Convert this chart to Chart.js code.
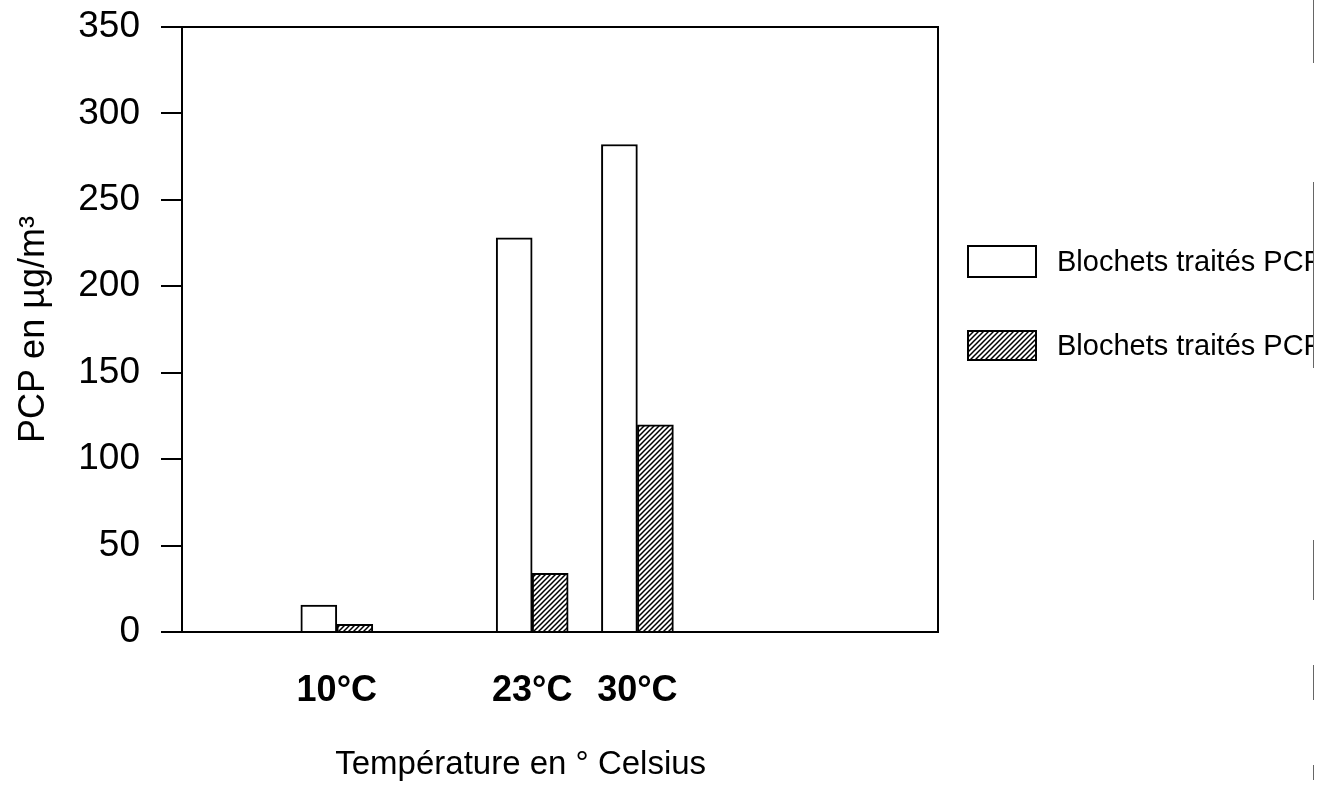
<!DOCTYPE html>
<html><head><meta charset="utf-8">
<script src="https://cdn.jsdelivr.net/npm/chart.js@4.4.1/dist/chart.umd.min.js"></script>
<style>html,body{margin:0;padding:0;background:#fff;}#wrap{width:1331px;height:800px;position:relative;}</style>
</head><body><div id="wrap"><canvas id="c" width="1331" height="800"></canvas></div>
<script>
// ---- data ----
const temperatures = [10, 23, 30];
const tickLabels = ['10°C', '23°C', '30°C'];
const seriesLabels = ['Blochets traités PCP', 'Blochets traités PCP'];
const whiteValues = [15.6, 228, 282];
const hatchedValues = [4.5, 34, 119.8];
const yTickValues = [0, 50, 100, 150, 200, 250, 300, 350];
const xTitle = 'Température en ° Celsius';
const yTitle = 'PCP en µg/m³';

const FONT = '"Liberation Sans", Arial, Helvetica, sans-serif';

function hatchPattern() {
  const s = 5;
  const c = document.createElement('canvas');
  c.width = s; c.height = s;
  const g = c.getContext('2d');
  g.fillStyle = '#fff'; g.fillRect(0, 0, s, s);
  g.strokeStyle = '#000'; g.lineWidth = 1.5;
  g.beginPath();
  g.moveTo(-1, s + 1); g.lineTo(s + 1, -1);
  g.moveTo(-s / 2 - 1, s / 2 + 1); g.lineTo(s / 2 + 1, -s / 2 - 1);
  g.moveTo(s / 2 - 1, s * 1.5 + 1); g.lineTo(s * 1.5 + 1, s / 2 - 1);
  g.stroke();
  return g.createPattern(c, 'repeat');
}
const hatch = hatchPattern();

const frameAndLegend = {
  id: 'frameAndLegend',
  afterDraw(chart) {
    const ctx = chart.ctx;
    const a = chart.chartArea;
    ctx.save();
    // frame (top & right sides)
    ctx.strokeStyle = '#000'; ctx.lineWidth = 2;
    ctx.beginPath();
    ctx.moveTo(a.left, a.top); ctx.lineTo(a.right, a.top); ctx.lineTo(a.right, a.bottom);
    ctx.stroke();
    // x title
    ctx.fillStyle = '#000';
    ctx.font = '33px ' + FONT;
    ctx.textAlign = 'center'; ctx.textBaseline = 'middle';
    ctx.fillText(xTitle, a.left + (a.right - a.left) * 0.448, 765);
    // legend (cut by page edge)
    ctx.beginPath(); ctx.rect(0, 0, 1313, 800); ctx.clip();
    const boxes = [{y: 246, h: 31}, {y: 331, h: 29}];
    chart.data.datasets.forEach((ds, i) => {
      const b = boxes[i];
      ctx.fillStyle = ds.backgroundColor;
      ctx.fillRect(968, b.y, 68, b.h);
      ctx.lineWidth = 2; ctx.strokeStyle = '#000';
      ctx.strokeRect(968, b.y, 68, b.h);
      ctx.fillStyle = '#000';
      ctx.font = '29px ' + FONT;
      ctx.textAlign = 'left'; ctx.textBaseline = 'middle';
      ctx.fillText(ds.label, 1057, b.y + b.h / 2 + 1);
    });
    ctx.restore();
    // scan edge line
    ctx.save();
    ctx.strokeStyle = '#666'; ctx.lineWidth = 1;
    [[0, 63], [182, 368], [540, 600], [665, 700], [765, 780]].forEach(s => {
      ctx.beginPath(); ctx.moveTo(1313.5, s[0]); ctx.lineTo(1313.5, s[1]); ctx.stroke();
    });
    ctx.restore();
  }
};

new Chart(document.getElementById('c'), {
  type: 'bar',
  data: {
    datasets: [
      {
        label: seriesLabels[0],
        data: temperatures.map((t, i) => ({x: t, y: whiteValues[i]})),
        backgroundColor: '#fff', borderColor: '#000', borderWidth: 2,
        barThickness: 36
      },
      {
        label: seriesLabels[1],
        data: temperatures.map((t, i) => ({x: t, y: hatchedValues[i]})),
        backgroundColor: hatch, borderColor: '#000', borderWidth: 2,
        barThickness: 36
      }
    ]
  },
  options: {
    responsive: false,
    animation: false,
    devicePixelRatio: 1,
    layout: {padding: {left: 8, top: 27, right: 393, bottom: 0}},
    plugins: {legend: {display: false}, tooltip: {enabled: false}, title: {display: false}},
    scales: {
      x: {
        type: 'linear', position: 'bottom', min: -0.3, max: 50, offset: false,
        grid: {display: false, drawTicks: false},
        border: {display: true, color: '#000', width: 2},
        ticks: {
          autoSkip: false, maxRotation: 0, padding: 37, color: '#000',
          font: {family: FONT, size: 36, weight: 'bold'},
          callback: v => { const i = temperatures.indexOf(v); return i >= 0 ? tickLabels[i] : ''; }
        },
        afterBuildTicks: s => { s.ticks = temperatures.map(v => ({value: v})); },
        afterFit: s => { s.height = 168; s.paddingLeft = 0; s.paddingRight = 0; }
      },
      y: {
        type: 'linear', min: 0, max: 350,
        grid: {display: true, drawOnChartArea: false, drawTicks: true, tickLength: 21, color: '#000', lineWidth: 2},
        border: {display: true, color: '#000', width: 2},
        ticks: {stepSize: 50, padding: 21, color: '#000', font: {family: FONT, size: 37}},
        afterBuildTicks: s => { s.ticks = yTickValues.map(v => ({value: v})); },
        title: {display: true, text: yTitle, color: '#000', font: {family: FONT, size: 36}, padding: {top: 4, bottom: 4}},
        afterFit: s => { s.width = 174; s.paddingTop = 0; s.paddingBottom = 0; }
      }
    }
  },
  plugins: [frameAndLegend]
});
</script>
</body></html>
